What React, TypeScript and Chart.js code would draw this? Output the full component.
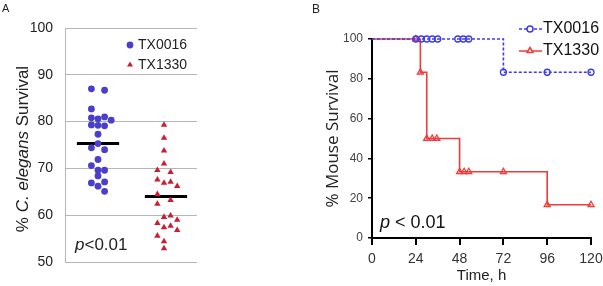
import React, { useEffect, useRef } from 'react';
import { Chart, registerables } from 'chart.js';

Chart.register(...registerables);

const FONT = "'Liberation Sans', Arial, sans-serif";
const NARROW = "'Liberation Sans Narrow', 'Liberation Sans', Arial, sans-serif";

// ---------- Panel A data ----------
const groupsA = ['TX0016', 'TX1330'];
const survivalTX0016 = [87.0, 86.7, 82.7, 80.8, 80.6, 81.0, 80.3, 79.3, 79.2, 79.1, 77.3, 75.3, 74.4, 74.0, 71.9, 70.6, 69.6, 69.6, 68.4, 66.9, 66.2, 67.1, 65.1];
const columnTX0016 = [-1, 1, -1, -1, 0, 1, 2, -1, 0, 1, 0, 0, -1, 1, 0, -1, 0, 1, 0, -1, 0, 1, 1];
const survivalTX1330 = [79.3, 76.5, 73.8, 71.0, 69.6, 69.2, 67.6, 66.9, 67.1, 66.2, 64.5, 63.2, 62.4, 59.6, 59.9, 59.0, 58.3, 57.4, 57.7, 56.8, 55.6, 54.4, 52.9];
const columnTX1330 = [0, 0, 0, 0, -1, 1, -1, 0, 1, 2, -1, 1, -1, 0, 1, 2, -1, 0, 1, 2, -1, 0, 0];
const meansA = [75.3, 64.0];
const yRangeA = [50, 100];
const pTextA = ['p', '<0.01'];
const yTitleA = ['% ', 'C. elegans', ' Survival'];

// ---------- Panel B data ----------
const seriesB = ['TX0016', 'TX1330'];
const timeTX0016 = [0, 24, 27, 30, 33, 36, 47, 50, 53, 72, 96, 120];
const mouseTX0016 = [100, 100, 100, 100, 100, 100, 100, 100, 100, 83.3, 83.3, 83.3];
const markTX0016 = [0, 1, 1, 1, 1, 1, 1, 1, 1, 1, 1, 1];
const timeTX1330 = [0, 24, 26.5, 30, 33, 35.5, 48, 50.5, 53, 72, 96, 120];
const mouseTX1330 = [100, 100, 83.3, 50, 50, 50, 33.3, 33.3, 33.3, 33.3, 16.7, 16.7];
const markTX1330 = [0, 1, 1, 1, 1, 1, 1, 1, 1, 1, 1, 1];
const xRangeB = [0, 120];
const xStepB = 24;
const yRangeB = [0, 100];
const yStepB = 20;
const pTextB = ['p', ' < 0.01'];

const BLUE_A = '#4a3fca';
const RED_A = '#c91f30';
const BLUE_B = '#3b3bf0';
const RED_B = '#ef3b3b';

const COL = 0.1;

const extrasA = {
  id: 'extrasA',
  afterDraw(chart: any) {
    const ctx = chart.ctx;
    ctx.save();
    ctx.fillStyle = '#222';
    ctx.font = `11px ${FONT}`;
    ctx.textBaseline = 'alphabetic';
    ctx.textAlign = 'left';
    ctx.fillText('A', 2, 12);
    const fonts = [`17px ${FONT}`, `italic 17px ${FONT}`, `17px ${FONT}`];
    let total = 0;
    const widths = yTitleA.map((t, i) => {
      ctx.font = fonts[i];
      const w = ctx.measureText(t).width;
      total += w;
      return w;
    });
    ctx.translate(28, 149);
    ctx.rotate(-Math.PI / 2);
    let x = -total / 2;
    yTitleA.forEach((t, i) => {
      ctx.font = fonts[i];
      ctx.fillText(t, x, 0);
      x += widths[i];
    });
    ctx.setTransform(1, 0, 0, 1, 0, 0);
    ctx.fillStyle = BLUE_A;
    ctx.beginPath();
    ctx.arc(130, 45, 3.4, 0, Math.PI * 2);
    ctx.fill();
    ctx.fillStyle = RED_A;
    ctx.beginPath();
    ctx.moveTo(130, 61.5);
    ctx.lineTo(133, 66.5);
    ctx.lineTo(127, 66.5);
    ctx.closePath();
    ctx.fill();
    ctx.fillStyle = '#222';
    ctx.font = `14px ${FONT}`;
    ctx.textBaseline = 'middle';
    ctx.fillText(groupsA[0], 138, 45);
    ctx.fillText(groupsA[1], 138, 65);
    ctx.textBaseline = 'alphabetic';
    ctx.font = `italic 17px ${FONT}`;
    ctx.fillText(pTextA[0], 75, 250);
    const pw = ctx.measureText(pTextA[0]).width;
    ctx.font = `17px ${FONT}`;
    ctx.fillText(pTextA[1], 75 + pw, 250);
    ctx.restore();
  },
};

const extrasB = {
  id: 'extrasB',
  afterDraw(chart: any) {
    const ctx = chart.ctx;
    ctx.save();
    ctx.fillStyle = '#222';
    ctx.font = `12px ${FONT}`;
    ctx.textBaseline = 'alphabetic';
    ctx.textAlign = 'left';
    ctx.fillText('B', 22, 13);
    ctx.lineWidth = 1.5;
    ctx.strokeStyle = BLUE_B;
    ctx.setLineDash([3, 2]);
    ctx.beginPath();
    ctx.moveTo(229, 29);
    ctx.lineTo(252, 29);
    ctx.stroke();
    ctx.setLineDash([]);
    ctx.fillStyle = '#fff';
    ctx.beginPath();
    ctx.arc(240, 29, 3, 0, Math.PI * 2);
    ctx.fill();
    ctx.stroke();
    ctx.strokeStyle = RED_B;
    ctx.beginPath();
    ctx.moveTo(229, 51);
    ctx.lineTo(252, 51);
    ctx.stroke();
    ctx.beginPath();
    ctx.moveTo(240, 47.5);
    ctx.lineTo(243, 52.5);
    ctx.lineTo(237, 52.5);
    ctx.closePath();
    ctx.fill();
    ctx.stroke();
    ctx.fillStyle = '#111';
    ctx.font = `16px ${FONT}`;
    ctx.textBaseline = 'middle';
    ctx.fillText(seriesB[0], 253, 29);
    ctx.fillText(seriesB[1], 253, 51);
    ctx.textBaseline = 'alphabetic';
    ctx.font = `italic 18px ${FONT}`;
    ctx.fillText(pTextB[0], 90, 228);
    const pw = ctx.measureText(pTextB[0]).width;
    ctx.font = `18px ${FONT}`;
    ctx.fillText(pTextB[1], 90 + pw, 228);
    ctx.restore();
  },
};

export default function App() {
  const refA = useRef<HTMLCanvasElement>(null);
  const refB = useRef<HTMLCanvasElement>(null);

  useEffect(() => {
    Chart.defaults.font.family = FONT;
    const chartA = new Chart(refA.current as HTMLCanvasElement, {
      type: 'scatter',
      data: {
        datasets: [
          {
            label: groupsA[0],
            data: survivalTX0016.map((v, i) => ({ x: 0 + columnTX0016[i] * COL, y: v })),
            pointStyle: 'circle',
            pointRadius: 3.4,
            backgroundColor: BLUE_A,
            borderColor: BLUE_A,
            borderWidth: 0,
          },
          {
            label: groupsA[1],
            data: survivalTX1330.map((v, i) => ({ x: 1 + columnTX1330[i] * COL, y: v })),
            pointStyle: 'triangle',
            pointRadius: 3.7,
            backgroundColor: RED_A,
            borderColor: RED_A,
            borderWidth: 0,
          },
          ...meansA.map((m, i) => ({
            type: 'line' as const,
            label: 'mean ' + groupsA[i],
            data: [
              { x: i - 0.32 + i * 0.03, y: m },
              { x: i + 0.32 + i * 0.03, y: m },
            ],
            borderColor: '#000',
            borderWidth: 3,
            pointRadius: 0,
            showLine: true,
          })),
        ],
      },
      options: {
        responsive: false,
        animation: false,
        events: [],
        layout: { padding: { left: 0, top: 28, right: 93, bottom: 24 } },
        plugins: { legend: { display: false }, tooltip: { enabled: false } },
        scales: {
          x: { type: 'linear', min: -0.5, max: 1.5, display: false },
          y: {
            min: yRangeA[0],
            max: yRangeA[1],
            ticks: { stepSize: 10, padding: 12, color: '#222', font: { size: 14, family: FONT } },
            grid: { color: '#b5b5b5', lineWidth: 1, drawTicks: false },
            border: { display: true, color: '#b5b5b5', width: 1 },
            afterFit: (s: any) => {
              s.width = 65;
            },
          },
        },
      },
      plugins: [extrasA],
    } as any);

    const mk = (t: number[], v: number[]) => t.map((x, i) => ({ x, y: v[i] }));
    const chartB = new Chart(refB.current as HTMLCanvasElement, {
      type: 'line',
      data: {
        datasets: [
          {
            label: seriesB[0],
            data: mk(timeTX0016, mouseTX0016),
            stepped: true,
            borderColor: BLUE_B,
            borderWidth: 1.6,
            borderDash: [3, 2],
            pointStyle: 'circle',
            pointRadius: markTX0016.map((m) => (m ? 3 : 0)),
            pointBorderColor: BLUE_B,
            pointBackgroundColor: 'rgba(255,255,255,0)',
            pointBorderWidth: 1.3,
            clip: false,
          },
          {
            label: seriesB[1],
            data: mk(timeTX1330, mouseTX1330),
            stepped: true,
            borderColor: RED_B,
            borderWidth: 1.6,
            pointStyle: 'triangle',
            pointRadius: markTX1330.map((m) => (m ? 3.5 : 0)),
            pointBorderColor: RED_B,
            pointBackgroundColor: 'rgba(255,255,255,0)',
            pointBorderWidth: 1.3,
            clip: false,
          },
        ],
      },
      options: {
        responsive: false,
        animation: false,
        events: [],
        layout: { padding: { left: 33, top: 39, right: 12, bottom: 0 } },
        plugins: { legend: { display: false }, tooltip: { enabled: false } },
        scales: {
          x: {
            type: 'linear',
            min: xRangeB[0],
            max: xRangeB[1],
            ticks: { stepSize: xStepB, padding: 6, color: '#333', font: { size: 14, family: NARROW } },
            grid: { drawOnChartArea: false, drawTicks: true, tickLength: 7, color: '#000', lineWidth: 2 },
            border: { display: true, color: '#000', width: 2 },
            title: { display: true, text: 'Time, h', color: '#222', font: { size: 15, family: NARROW }, padding: { top: 0, bottom: 1 } },
            afterFit: (s: any) => {
              s.height = 48;
              s.paddingRight = 0;
              s.paddingLeft = 0;
            },
          },
          y: {
            min: yRangeB[0],
            max: yRangeB[1],
            ticks: { stepSize: yStepB, padding: 5, color: '#444', font: { size: 12, family: FONT } },
            grid: { drawOnChartArea: false, drawTicks: true, tickLength: 4, color: '#000', lineWidth: 1.5 },
            border: { display: true, color: '#000', width: 2 },
            title: { display: true, text: '% Mouse Survival', color: '#222', font: { size: 17, family: "'Open Sans', sans-serif" }, padding: { top: 0, bottom: 0 } },
            afterFit: (s: any) => {
              s.width = 49;
              s.paddingTop = 0;
              s.paddingBottom = 0;
            },
          },
        },
      },
      plugins: [extrasB],
    } as any);

    return () => {
      chartA.destroy();
      chartB.destroy();
    };
  }, []);

  return (
    <div style={{ position: 'fixed', left: 0, top: 0, width: 603, height: 286, background: '#fff' }}>
      <canvas ref={refA} width={290} height={286} style={{ position: 'absolute', left: 0, top: 0 }} />
      <canvas ref={refB} width={313} height={286} style={{ position: 'absolute', left: 290, top: 0 }} />
    </div>
  );
}
